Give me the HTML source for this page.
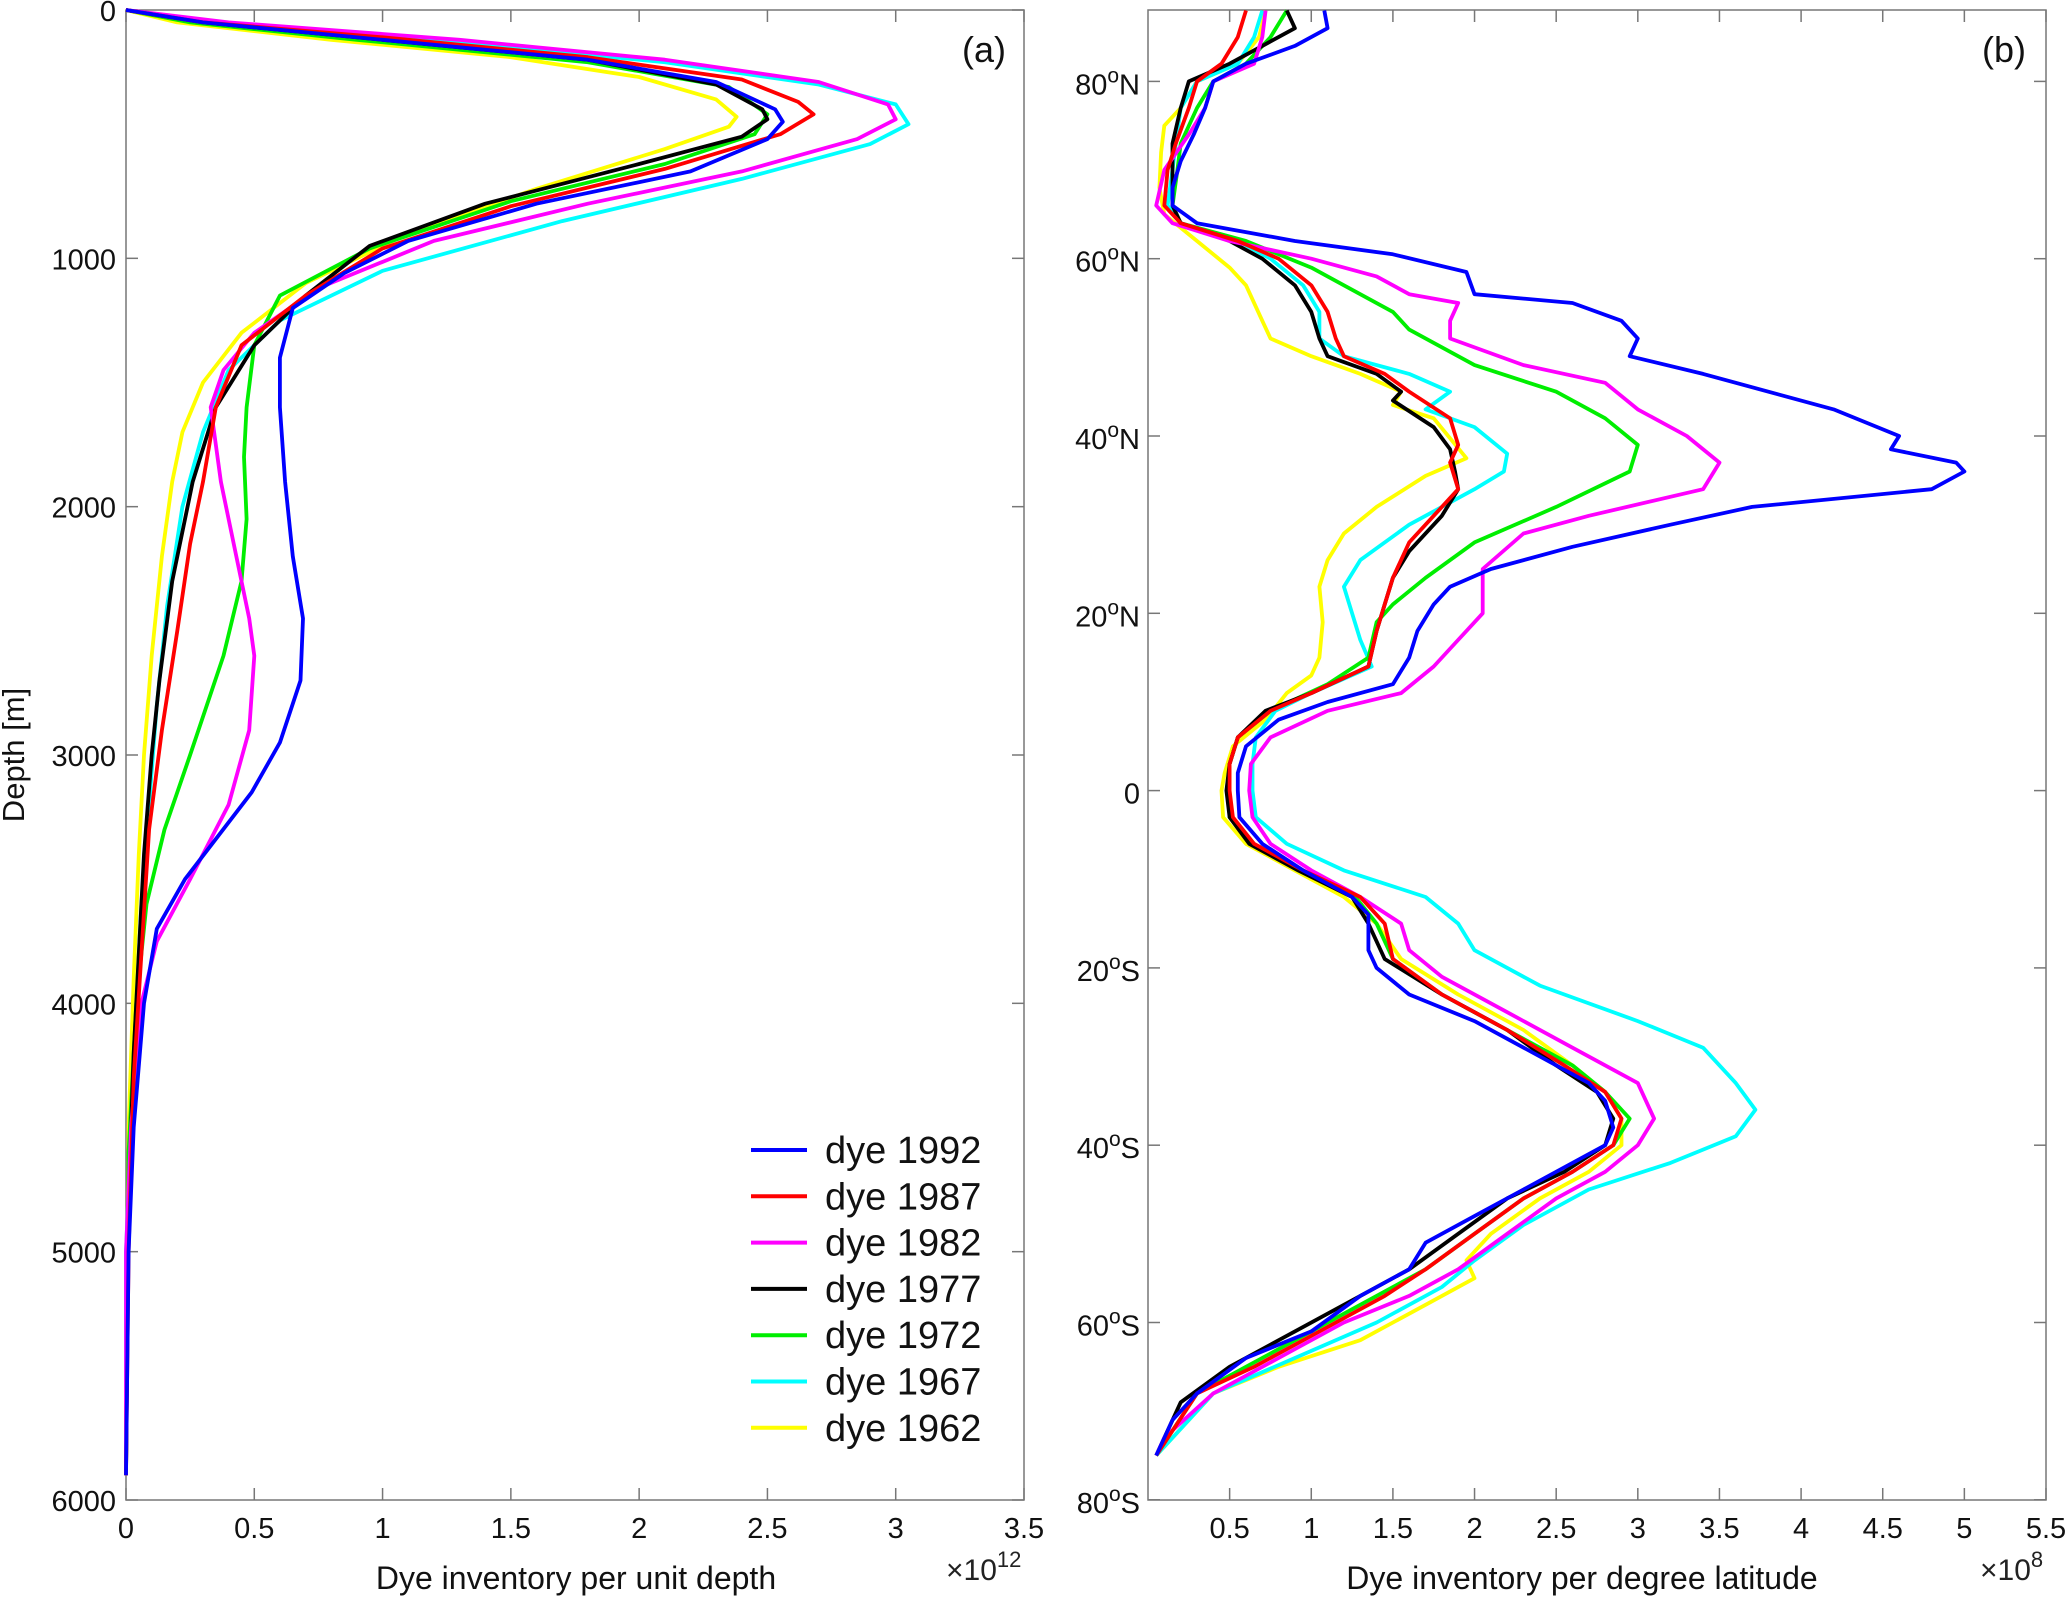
<!DOCTYPE html>
<html><head><meta charset="utf-8"><style>
body{margin:0;background:#fff;}
svg{display:block;font-family:"Liberation Sans",Arial,sans-serif;}
</style></head><body>
<svg id="chart" width="2067" height="1598" viewBox="0 0 2067 1598" xmlns="http://www.w3.org/2000/svg">
<g id="pa"></g>
<g id="pb"></g>
</svg>
<script>
const NS="http://www.w3.org/2000/svg";
const seriesNames=["dye 1992","dye 1987","dye 1982","dye 1977","dye 1972","dye 1967","dye 1962"];
const seriesColors=["#0000ff","#ff0000","#ff00ff","#000000","#00ee00","#00ffff","#ffff00"];
const depthTicks=[0,1000,2000,3000,4000,5000,6000];
const invTicksA=[0,0.5,1,1.5,2,2.5,3,3.5];
const invTicksB=[0.5,1,1.5,2,2.5,3,3.5,4,4.5,5,5.5];
const latTicks=[80,60,40,20,0,-20,-40,-60,-80];
// panel a: [value x1e12, depth m]
const a1992=[[0,0],[0.3,50],[1.0,120],[1.8,200],[2.3,290],[2.53,400],[2.56,450],[2.5,520],[2.2,650],[1.6,780],[1.1,930],[0.85,1060],[0.65,1200],[0.6,1400],[0.6,1600],[0.62,1900],[0.65,2200],[0.69,2450],[0.68,2700],[0.6,2950],[0.49,3150],[0.23,3500],[0.12,3700],[0.07,4000],[0.03,4500],[0.01,5000],[0,5900]];
const a1987=[[0,0],[0.3,50],[1.0,110],[1.8,190],[2.4,280],[2.62,370],[2.68,420],[2.55,500],[2.1,640],[1.5,790],[1.0,960],[0.7,1150],[0.45,1350],[0.35,1600],[0.3,1900],[0.25,2150],[0.2,2500],[0.14,2900],[0.09,3300],[0.06,3800],[0.03,4300],[0.01,5000],[0,5900]];
const a1982=[[0,0],[0.4,50],[1.3,120],[2.1,200],[2.7,290],[2.97,380],[3.0,440],[2.85,520],[2.4,650],[1.8,780],[1.2,930],[0.75,1120],[0.5,1300],[0.38,1450],[0.33,1600],[0.37,1900],[0.43,2200],[0.48,2450],[0.5,2600],[0.48,2900],[0.4,3200],[0.25,3500],[0.12,3750],[0.06,4000],[0.02,4500],[0,5000],[0,5900]];
const a1977=[[0,0],[0.3,50],[1.0,120],[1.8,200],[2.3,300],[2.48,400],[2.5,440],[2.4,510],[2.0,620],[1.4,780],[0.95,950],[0.7,1150],[0.5,1350],[0.35,1600],[0.26,1900],[0.18,2300],[0.13,2700],[0.1,3000],[0.07,3400],[0.05,3800],[0.03,4200],[0.01,4800],[0,5900]];
const a1972=[[0,0],[0.25,50],[0.9,120],[1.8,210],[2.35,310],[2.5,420],[2.45,500],[2.1,620],[1.5,770],[0.95,960],[0.6,1150],[0.5,1350],[0.47,1600],[0.46,1800],[0.47,2050],[0.45,2300],[0.38,2600],[0.25,3000],[0.15,3300],[0.08,3600],[0.04,4000],[0.01,4600],[0,5900]];
const a1967=[[0,0],[0.35,50],[1.2,120],[2.1,210],[2.7,300],[3.0,380],[3.05,460],[2.9,540],[2.4,680],[1.7,850],[1.0,1050],[0.6,1250],[0.4,1450],[0.3,1700],[0.22,2000],[0.16,2400],[0.12,2800],[0.09,3200],[0.06,3600],[0.04,4000],[0.02,4500],[0,5000],[0,5900]];
const a1962=[[0,0],[0.2,50],[0.8,120],[1.5,190],[2.0,270],[2.3,360],[2.38,430],[2.35,470],[2.1,560],[1.6,720],[1.1,900],[0.7,1100],[0.45,1300],[0.3,1500],[0.22,1700],[0.18,1900],[0.14,2200],[0.1,2600],[0.07,3000],[0.05,3400],[0.03,3900],[0.01,4500],[0,5900]];
// panel b: [value x1e8, latitude]
const b1992=[[1.08,88],[1.1,86],[0.9,84],[0.6,82],[0.4,80],[0.35,77],[0.28,74],[0.2,71],[0.15,68],[0.15,66],[0.3,64],[0.9,62],[1.5,60.5],[1.95,58.5],[2.0,56],[2.6,55],[2.9,53],[3.0,51],[2.95,49],[3.4,47],[3.8,45],[4.2,43],[4.6,40],[4.55,38.5],[4.95,37],[5.0,36],[4.8,34],[3.7,32],[3.2,30],[2.6,27.5],[2.1,25],[1.85,23],[1.75,21],[1.65,18],[1.6,15],[1.5,12],[1.1,10],[0.8,8],[0.6,5],[0.55,2],[0.55,0],[0.56,-3],[0.7,-6],[0.95,-9],[1.25,-12],[1.35,-14],[1.35,-18],[1.4,-20],[1.6,-23],[2.0,-26],[2.4,-30],[2.7,-33],[2.8,-35],[2.85,-38],[2.8,-40],[2.6,-42],[2.3,-45],[2.0,-48],[1.7,-51],[1.6,-54],[1.3,-57],[1.0,-61],[0.6,-64],[0.3,-68],[0.15,-71],[0.05,-75]];
const b1987=[[0.6,88],[0.55,85],[0.45,82],[0.3,80],[0.25,77],[0.17,73],[0.12,70],[0.1,66],[0.2,64],[0.55,62],[0.8,60],[1.0,57],[1.1,54],[1.15,51],[1.2,49],[1.45,47],[1.6,45],[1.85,42],[1.9,39],[1.85,37],[1.9,34],[1.75,31],[1.6,28],[1.5,24],[1.45,21],[1.4,18],[1.35,14],[1.0,11],[0.75,9],[0.55,6],[0.5,3],[0.5,0],[0.52,-3],[0.65,-6],[0.95,-9],[1.3,-12],[1.45,-15],[1.5,-19],[1.8,-23],[2.2,-27],[2.55,-31],[2.8,-34],[2.9,-37],[2.85,-40],[2.6,-43],[2.3,-46],[2.0,-50],[1.7,-54],[1.45,-57],[1.05,-61],[0.65,-65],[0.3,-68],[0.05,-75]];
const b1982=[[0.72,88],[0.7,85],[0.65,82],[0.4,80],[0.35,77],[0.25,74],[0.1,70],[0.05,66],[0.15,64],[0.5,62],[1.0,60],[1.4,58],[1.6,56],[1.9,55],[1.85,53],[1.85,51],[2.3,48],[2.8,46],[3.0,43],[3.3,40],[3.5,37],[3.4,34],[2.7,31],[2.3,29],[2.05,25],[2.05,22],[2.05,20],[1.9,17],[1.75,14],[1.55,11],[1.1,9],[0.75,6],[0.63,3],[0.62,0],[0.64,-3],[0.75,-6],[1.0,-9],[1.3,-12],[1.55,-15],[1.6,-18],[1.8,-21],[2.2,-25],[2.6,-29],[3.0,-33],[3.1,-37],[3.0,-40],[2.8,-43],[2.5,-46],[2.2,-50],[1.9,-54],[1.6,-57],[1.2,-60],[0.8,-64],[0.4,-68],[0.1,-73],[0.05,-75]];
const b1977=[[0.85,88],[0.9,86],[0.7,84],[0.5,82],[0.25,80],[0.2,77],[0.15,73],[0.15,70],[0.15,66],[0.2,64],[0.5,62],[0.7,60],[0.9,57],[1.0,54],[1.05,51],[1.1,49],[1.4,47],[1.55,45],[1.5,44],[1.75,41],[1.85,38.5],[1.88,36],[1.9,34],[1.8,31],[1.6,27],[1.5,24],[1.45,21],[1.4,18],[1.35,14],[1.0,11],[0.72,9],[0.55,6],[0.5,3],[0.48,0],[0.5,-3],[0.62,-6],[0.92,-9],[1.25,-12],[1.35,-15],[1.45,-19],[1.8,-23],[2.2,-27],[2.5,-31],[2.75,-34],[2.85,-37],[2.8,-40],[2.55,-43],[2.2,-46],[1.9,-50],[1.6,-54],[1.3,-57],[0.9,-61],[0.5,-65],[0.2,-69],[0.05,-75]];
const b1972=[[0.85,88],[0.75,85],[0.6,82],[0.4,80],[0.3,77],[0.2,73],[0.18,70],[0.15,66],[0.2,64],[0.6,62],[1.0,59],[1.2,57],[1.5,54],[1.6,52],[2.0,48],[2.5,45],[2.8,42],[3.0,39],[2.95,36],[2.5,32],[2.0,28],[1.7,24],[1.5,21],[1.4,19],[1.35,15],[1.1,12],[0.75,9],[0.55,6],[0.5,3],[0.49,0],[0.5,-3],[0.63,-6],[0.92,-9],[1.27,-12],[1.4,-15],[1.5,-19],[1.8,-23],[2.2,-27],[2.6,-31],[2.8,-34],[2.95,-37],[2.85,-40],[2.6,-43],[2.3,-46],[2.0,-50],[1.7,-54],[1.4,-57],[1.0,-61],[0.6,-65],[0.3,-68],[0.05,-75]];
const b1967=[[0.7,88],[0.65,85],[0.55,82],[0.3,80],[0.2,77],[0.17,73],[0.15,70],[0.12,66],[0.2,64],[0.55,62],[0.75,60],[0.95,57],[1.05,54],[1.05,51],[1.2,49],[1.6,47],[1.85,45],[1.7,43],[2.0,41],[2.2,38],[2.18,36],[2.0,34],[1.6,30],[1.3,26],[1.2,23],[1.25,20],[1.3,17],[1.37,14],[1.0,11],[0.78,9],[0.66,6],[0.64,3],[0.64,0],[0.66,-3],[0.85,-6],[1.2,-9],[1.7,-12],[1.9,-15],[2.0,-18],[2.4,-22],[3.0,-26],[3.4,-29],[3.6,-33],[3.72,-36],[3.6,-39],[3.2,-42],[2.7,-45],[2.3,-49],[2.0,-53],[1.8,-56],[1.4,-60],[0.9,-64],[0.4,-68],[0.05,-75]];
const b1962=[[0.72,88],[0.68,85],[0.55,82],[0.3,80],[0.2,77],[0.1,75],[0.08,72],[0.07,68],[0.1,65],[0.3,62],[0.5,59],[0.6,57],[0.7,53],[0.75,51],[1.0,49],[1.3,47],[1.55,45],[1.5,43.5],[1.75,42],[1.95,37.5],[1.7,35.5],[1.4,32],[1.2,29],[1.1,26],[1.05,23],[1.07,19],[1.05,15],[1.0,13],[0.85,11],[0.72,8],[0.52,5],[0.47,2],[0.45,0],[0.46,-3],[0.6,-6],[0.9,-9],[1.2,-12],[1.4,-15],[1.55,-19],[1.9,-23],[2.3,-27],[2.6,-31],[2.8,-34],[2.9,-37],[2.9,-40],[2.7,-43],[2.4,-46],[2.1,-50],[1.95,-53],[2.0,-55],[1.7,-58],[1.3,-62],[0.8,-65],[0.4,-68],[0.05,-75]];
const seriesA=[a1992,a1987,a1982,a1977,a1972,a1967,a1962];
const seriesB=[b1992,b1987,b1982,b1977,b1972,b1967,b1962];

const A={x0:126,x1:1024,y0:10,y1:1500};
const B={x0:1148,x1:2046,y0:10,y1:1500};
const axA=v=>A.x0+v/3.5*(A.x1-A.x0);
const ayA=d=>A.y0+d/6000*(A.y1-A.y0);
const axB=v=>B.x0+v/5.5*(B.x1-B.x0);
const ayB=l=>790.6-l*8.865;

function mk(tag,attrs,parent){const e=document.createElementNS(NS,tag);for(const k in attrs)e.setAttribute(k,attrs[k]);parent.appendChild(e);return e;}
const pa=document.getElementById('pa'), pb=document.getElementById('pb');

function frame(P,g){
  const r=mk('rect',{x:P.x0,y:P.y0,width:P.x1-P.x0,height:P.y1-P.y0,fill:'none',stroke:'#777','stroke-width':1.5},g);
  
  
}
frame(A,pa);frame(B,pb);

invTicksA.forEach(v=>{
  const x=axA(v);
  mk('line',{x1:x,y1:A.y1,x2:x,y2:A.y1-12,stroke:'#777','stroke-width':1.5},pa);
  mk('line',{x1:x,y1:A.y0,x2:x,y2:A.y0+12,stroke:'#777','stroke-width':1.5},pa);
  const t=mk('text',{x:x,y:1538,'font-size':29,'text-anchor':'middle',fill:'#111'},pa);
  t.textContent=String(v);
  
  
});
depthTicks.forEach(d=>{
  const y=ayA(d);
  mk('line',{x1:A.x0,y1:y,x2:A.x0+12,y2:y,stroke:'#777','stroke-width':1.5},pa);
  mk('line',{x1:A.x1,y1:y,x2:A.x1-12,y2:y,stroke:'#777','stroke-width':1.5},pa);
  const t=mk('text',{x:116,y:y+11,'font-size':29,'text-anchor':'end',fill:'#111'},pa);
  t.textContent=String(d);
  
  
});
invTicksB.forEach(v=>{
  const x=axB(v);
  mk('line',{x1:x,y1:B.y1,x2:x,y2:B.y1-12,stroke:'#777','stroke-width':1.5},pb);
  mk('line',{x1:x,y1:B.y0,x2:x,y2:B.y0+12,stroke:'#777','stroke-width':1.5},pb);
  const t=mk('text',{x:x,y:1538,'font-size':29,'text-anchor':'middle',fill:'#111'},pb);
  t.textContent=String(v);
  
  
});
latTicks.forEach(l=>{
  const y=ayB(l);
  mk('line',{x1:B.x0,y1:y,x2:B.x0+12,y2:y,stroke:'#777','stroke-width':1.5},pb);
  mk('line',{x1:B.x1,y1:y,x2:B.x1-12,y2:y,stroke:'#777','stroke-width':1.5},pb);
  const t=mk('text',{x:1140,y:y+13,'font-size':29,'text-anchor':'end',fill:'#111'},pb);
  
  
  if(l===0){t.textContent='0';}
  else{
    t.appendChild(document.createTextNode(String(Math.abs(l))));
    const s=mk('tspan',{dy:-12,'font-size':21},t);s.textContent='o';
    const s2=mk('tspan',{dy:12},t);s2.textContent=l>0?'N':'S';
  }
});

function drawSeries(g,data,color,fx,fy,name){
  const d=data.map((p,i)=>(i?'L':'M')+fx(p[0]).toFixed(1)+' '+fy(p[1]).toFixed(1)).join(' ');
  const p=mk('path',{d:d,fill:'none',stroke:color,'stroke-width':3.8,'stroke-linejoin':'round'},g);
  
  
}
for(let i=seriesA.length-1;i>=0;i--){
  drawSeries(pa,seriesA[i],seriesColors[i],axA,ayA,'line-a-'+seriesNames[i].replace(' ','-'));
  drawSeries(pb,seriesB[i],seriesColors[i],axB,ayB,'line-b-'+seriesNames[i].replace(' ','-'));
}

const lg=mk('g',{},pa);


seriesNames.forEach((n,i)=>{
  const y=1150+i*46.3;
  const e=mk('g',{},lg);
  
  
  mk('line',{x1:751,y1:y,x2:807,y2:y,stroke:seriesColors[i],'stroke-width':4},e);
  const t=mk('text',{x:825,y:y+13,'font-size':38,fill:'#111'},e);
  t.textContent=n;
});

function txt(g,attrs,s,name){const t=mk('text',attrs,g);t.textContent=s;return t;}
txt(pa,{x:984,y:62,'font-size':36,'text-anchor':'middle',fill:'#111'},'(a)','panel-label-a');
txt(pb,{x:2004,y:62,'font-size':36,'text-anchor':'middle',fill:'#111'},'(b)','panel-label-b');
txt(pa,{x:576,y:1589,'font-size':32,'text-anchor':'middle',fill:'#111'},'Dye inventory per unit depth','x-axis-title-a');
txt(pb,{x:1582,y:1589,'font-size':32,'text-anchor':'middle',fill:'#111'},'Dye inventory per degree latitude','x-axis-title-b');
txt(pa,{x:24,y:755,'font-size':31,'text-anchor':'middle',fill:'#111',transform:'rotate(-90 24 755)'},'Depth [m]','y-axis-title-a');
const m1=txt(pa,{x:946,y:1580,'font-size':30,fill:'#222'},'×10','exponent-a');
const e1=mk('tspan',{dy:-13,'font-size':22},m1);e1.textContent='12';
const m2=txt(pb,{x:1980,y:1580,'font-size':30,fill:'#222'},'×10','exponent-b');
const e2=mk('tspan',{dy:-13,'font-size':22},m2);e2.textContent='8';
</script>
</body></html>
